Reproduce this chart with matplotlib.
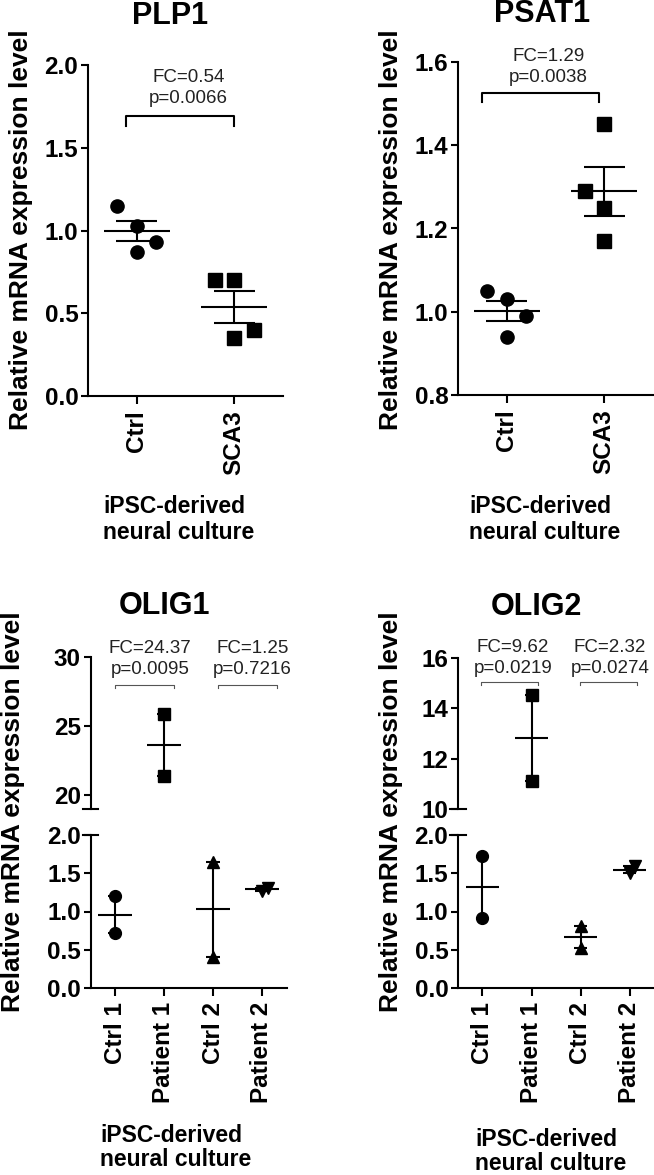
import matplotlib
matplotlib.use('Agg')
import matplotlib.pyplot as plt
import numpy as np

plt.rcParams['font.family'] = ['Liberation Sans', 'DejaVu Sans']

W, H = 654, 1175

# --- data ---
top_groups = ['Ctrl', 'SCA3']
plp1_ctrl = [1.15, 1.03, 0.93, 0.87]
plp1_sca3 = [0.70, 0.70, 0.40, 0.35]
psat1_ctrl = [1.05, 1.03, 0.99, 0.94]
psat1_sca3 = [1.45, 1.29, 1.25, 1.17]

bottom_groups = ['Ctrl 1', 'Patient 1', 'Ctrl 2', 'Patient 2']
olig1_values = [[1.20, 0.72], [25.85, 21.36], [1.65, 0.41], [1.31, 1.27]]
olig2_values = [[1.73, 0.92], [14.52, 11.10], [0.81, 0.52], [1.59, 1.50]]

plp1_stats = ['FC=0.54', 'p=0.0066']
psat1_stats = ['FC=1.29', 'p=0.0038']
olig1_stats = [['FC=24.37', 'p=0.0095'], ['FC=1.25', 'p=0.7216']]
olig2_stats = [['FC=9.62', 'p=0.0219'], ['FC=2.32', 'p=0.0274']]

TICK_FS = 17.5
LW = 1.5


def rect(l, t, r, b):
    return [l / W, 1 - b / H, (r - l) / W, (b - t) / H]


def style(ax, bottom=True):
    for s in ['top', 'right']:
        ax.spines[s].set_visible(False)
    ax.spines['left'].set_linewidth(LW)
    ax.spines['bottom'].set_linewidth(LW)
    ax.spines['bottom'].set_visible(bottom)
    ax.tick_params(width=LW, length=5, labelsize=TICK_FS, pad=2)
    ax.tick_params(axis='x', length=6, pad=4)
    for lab in ax.get_yticklabels() + ax.get_xticklabels():
        lab.set_fontweight('bold')


def scatter_group(ax, x, vals, offsets, marker, ms, half_mean, half_cap):
    # points + mean line + SEM bar with caps
    vals = np.asarray(vals, float)
    m = vals.mean()
    sem = vals.std(ddof=1) / np.sqrt(len(vals))
    ax.plot(x + np.asarray(offsets), vals, ls='none', marker=marker, ms=ms,
            color='black', zorder=3)
    ax.hlines(m, x - half_mean, x + half_mean, color='black', lw=LW, zorder=2)
    ax.vlines(x, m - sem, m + sem, color='black', lw=LW, zorder=2)
    ax.hlines([m - sem, m + sem], x - half_cap, x + half_cap, color='black', lw=LW, zorder=2)


def add_labels(title, tpos, ylpos, xlpos):
    fig.text(tpos[0] / W, 1 - tpos[1] / H, title, ha='center', va='center',
             fontsize=22, fontweight='bold')
    fig.text(ylpos[0] / W, 1 - ylpos[1] / H, 'Relative mRNA expression level',
             rotation=90, ha='center', va='center', fontsize=19, fontweight='bold')
    fig.text(xlpos[0] / W, 1 - xlpos[1] / H, 'iPSC-derived', ha='left', va='center',
             fontsize=16.5, fontweight='bold')
    fig.text(xlpos[0] / W, 1 - (xlpos[1] + 25) / H, 'neural culture', ha='left',
             va='center', fontsize=16.5, fontweight='bold')


fig = plt.figure(figsize=(W / 100, H / 100), dpi=100)

# ---------------- top panels ----------------
top_specs = [
    ('PLP1', rect(88, 65, 283, 396), (0.0, 2.0), [0, 0.5, 1.0, 1.5, 2.0],
     plp1_ctrl, plp1_sca3, [-0.2, 0, 0.2, 0], [-0.2, 0, 0.2, 0],
     plp1_stats, (-0.11, 1.0, 1.69, 0.06), (0.53, 1.925, 1.80),
     (170, 16), (21, 230), (103, 507)),
    ('PSAT1', rect(458, 62, 653, 395), (0.8, 1.6), [0.8, 1.0, 1.2, 1.4, 1.6],
     psat1_ctrl, psat1_sca3, [-0.2, 0, 0.2, 0], [0, -0.2, 0, 0],
     psat1_stats, (-0.25, 0.95, 1.525, 0.02), (0.43, 1.614, 1.563),
     (542, 14), (391, 230), (469, 507)),
]

for (title, r, ylim, yticks, ctrl, sca3, off_c, off_s, stats, br, tx,
     tpos, ylpos, xlpos) in top_specs:
    ax = fig.add_axes(r)
    ax.set_xlim(-0.5, 1.5)
    ax.set_ylim(*ylim)
    ax.set_yticks(yticks)
    ax.set_yticklabels(['{:.1f}'.format(v) for v in yticks])
    ax.set_xticks([0, 1])
    ax.set_xticklabels(top_groups, rotation=90)
    style(ax)
    scatter_group(ax, 0, ctrl, off_c, 'o', 9.5, 0.34, 0.21)
    scatter_group(ax, 1, sca3, off_s, 's', 9.5, 0.34, 0.21)
    x0, x1, yb, drop = br
    ax.plot([x0, x0, x1, x1], [yb - drop, yb, yb, yb - drop], color='black',
            lw=LW, clip_on=False)
    ax.text(tx[0], tx[1], stats[0], ha='center', va='center', fontsize=13.5,
            color='#222222', clip_on=False)
    ax.text(tx[0], tx[2], stats[1], ha='center', va='center', fontsize=13.5,
            color='#222222', clip_on=False)
    add_labels(title, tpos, ylpos, xlpos)

# ---------------- bottom panels (broken y axis) ----------------
markers = ['o', 's', '^', 'v']
bottom_offsets = [[0, 0], [0, 0], [0, 0], [0.12, 0]]

bottom_specs = [
    ('OLIG1', olig1_values, olig1_stats,
     rect(90.5, 657, 286.5, 809), (19, 30), [20, 25, 30],
     rect(90.5, 835, 286.5, 988),
     [(0.0, 1.2), (2.1, 3.3)], 28.0, 0.22, [0.71, 2.8], (30.65, 29.06),
     (165, 606), (13, 812), (100, 1135)),
    ('OLIG2', olig2_values, olig2_stats,
     rect(458, 658, 654, 809), (10, 16), [10, 12, 14, 16],
     rect(458, 835, 654, 988),
     [(-0.03, 1.14), (1.99, 3.16)], 15.03, 0.12, [0.62, 2.6], (16.4, 15.57),
     (536, 607), (391, 812), (475, 1139)),
]

for (title, values, stats, r_up, ylim_up, yt_up, r_lo, brs, yb, drop, txs, tys,
     tpos, ylpos, xlpos) in bottom_specs:
    ax_up = fig.add_axes(r_up)
    ax_lo = fig.add_axes(r_lo)
    for ax in (ax_up, ax_lo):
        ax.set_xlim(-0.5, 3.5)
        for i, vals in enumerate(values):
            scatter_group(ax, i, vals, bottom_offsets[i], markers[i], 8.5, 0.34, 0.14)
    ax_up.set_ylim(*ylim_up)
    ax_up.set_yticks(yt_up)
    ax_up.set_xticks([])
    style(ax_up, bottom=False)
    ax_lo.set_ylim(0, 2.0)
    lo_ticks = [0, 0.5, 1.0, 1.5, 2.0]
    ax_lo.set_yticks(lo_ticks)
    ax_lo.set_yticklabels(['{:.1f}'.format(v) for v in lo_ticks])
    ax_lo.set_xticks(range(len(bottom_groups)))
    ax_lo.set_xticklabels(bottom_groups, rotation=90)
    style(ax_lo)
    # break marks crossing the y axis
    ax_up.plot([-0.04, 0.04], [ylim_up[0], ylim_up[0]], transform=ax_up.get_yaxis_transform(),
               color='black', lw=LW, clip_on=False)
    ax_lo.plot([-0.04, 0.04], [2.0, 2.0], transform=ax_lo.get_yaxis_transform(),
               color='black', lw=LW, clip_on=False)
    for (x0, x1), tx, st in zip(brs, txs, stats):
        ax_up.plot([x0, x0, x1, x1], [yb - drop, yb, yb, yb - drop], color='#555555',
                   lw=0.8, clip_on=False)
        ax_up.text(tx, tys[0], st[0], ha='center', va='center', fontsize=13.5,
                   color='#222222', clip_on=False)
        ax_up.text(tx, tys[1], st[1], ha='center', va='center', fontsize=13.5,
                   color='#222222', clip_on=False)
    add_labels(title, tpos, ylpos, xlpos)

fig.savefig('out.png', dpi=100)
